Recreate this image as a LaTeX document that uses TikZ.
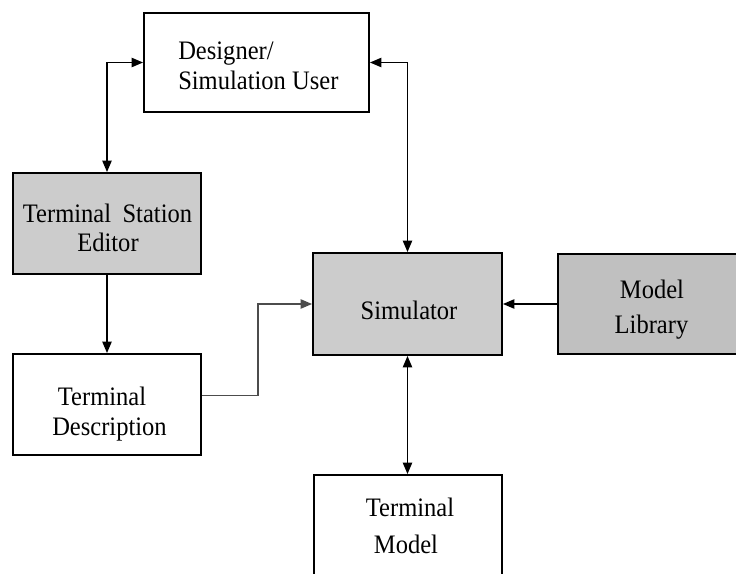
\documentclass[tikz,border=0pt]{standalone}
\usepackage{fontspec}
\setmainfont{Liberation Serif}[FakeStretch=0.92]
\usetikzlibrary{arrows.meta}
\definecolor{boxgray}{HTML}{CCCCCC}
\definecolor{libgray}{HTML}{C0C0C0}
\begin{document}
\begin{tikzpicture}[x=0.75pt,y=-0.75pt,
  >={Triangle[length=8.5pt,width=7pt]},
  blk/.style={draw=black, line width=1.5pt, rectangle, inner sep=0pt, minimum width=141pt, minimum height=75.75pt},
  txt/.style={anchor=base, inner sep=0pt, font=\fontsize{20}{24}\selectfont},
  con/.style={line width=1pt, draw=black}]
\useasboundingbox (0,0) rectangle (736,574);
\clip (0,0) rectangle (736,574);
\fill[white] (0,0) rectangle (736,574);
% boxes
\node[blk, minimum width=168.75pt, minimum height=74.25pt] (designer) at (256.5,62.5) {};
\node[blk, fill=boxgray] (editor) at (107,223.5) {};
\node[blk] (desc) at (107,404.5) {};
\node[blk, fill=boxgray, minimum width=141.75pt, minimum height=76.5pt] (sim) at (407.5,304) {};
\node[blk, fill=libgray, minimum height=75pt] (lib) at (652,304) {};
\node[blk] (model) at (407.5,525.5) {};
% texts
\node[txt, anchor=base west] (t1) at (178,60) {Designer/};
\node[txt, anchor=base west] (t2) at (178,90) {Simulation User};
\node[txt] (t3) at (107.5,222.7) {Terminal\hspace{4pt} Station};
\node[txt] (t4) at (108,251.7) {Editor};
\node[txt] (t5) at (102,405) {Terminal};
\node[txt] (t6) at (109.5,435) {Description};
\node[txt] (t7) at (409,319.3) {Simulator};
\node[txt] (t8) at (652,299) {Model};
\node[txt] (t9) at (651.5,333) {Library};
\node[txt] (t10) at (410,516.7) {Terminal};
\node[txt] (t11) at (406,553) {Model};
% connectors
\draw[con, <->] (designer.west) -| (editor.north);
\draw[con, <->] (designer.east) -| (sim.north);
\draw[con, ->] (editor.south) -- (desc.north);
\draw[line width=1pt, draw=black!70, ->] ([yshift=7pt]desc.east) -- ++(56,0) |- (sim.west);
\draw[con, ->] (lib.west) -- (sim.east);
\draw[con, <->] (sim.south) -- (model.north);
\end{tikzpicture}
\end{document}
